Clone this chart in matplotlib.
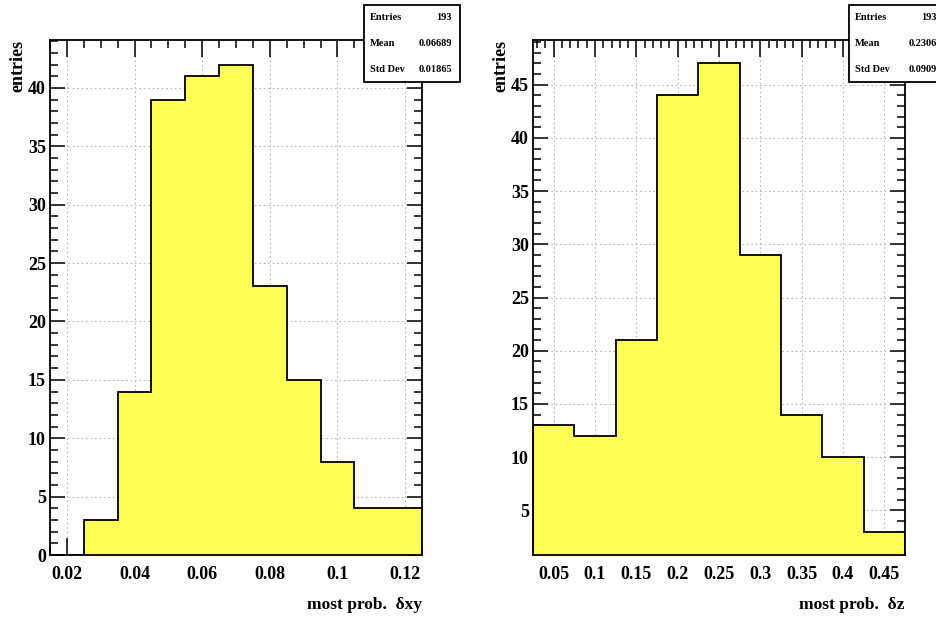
import numpy as np
import matplotlib
matplotlib.use("Agg")
from matplotlib import pyplot as plt
from matplotlib.patches import Rectangle
from matplotlib.ticker import MultipleLocator

plt.rcParams['font.family'] = ['Liberation Serif', 'DejaVu Serif']
plt.rcParams['font.weight'] = 'bold'

# Histogram contents
xy_edges = np.linspace(0.015, 0.125, 12)
xy_counts = [0, 3, 14, 39, 41, 42, 23, 15, 8, 4, 4]
z_edges = np.linspace(0.025, 0.475, 10)
z_counts = [13, 12, 21, 44, 47, 29, 14, 10, 3]

xy_stats = [('Entries', '193'), ('Mean', '0.06689'), ('Std Dev', '0.01865')]
z_stats = [('Entries', '193'), ('Mean', '0.2306'), ('Std Dev', '0.0909')]

W, H = 937, 619
fig = plt.figure(figsize=(W / 100, H / 100), dpi=100)

fill = '#ffff55'


def panel(left, edges, counts, ylim, xmaj, xmin, xlabel, stats, boxx):
    ax = fig.add_axes([left / W, 64 / H, 372 / W, 515 / H])
    ax.grid(True, color='#b8b8b8', linestyle=(0, (1.5, 2.5)), linewidth=0.8)
    ax.set_axisbelow(True)
    ax.stairs(counts, edges, fill=True, color=fill, zorder=2)
    ax.stairs(counts, edges, baseline=ylim[0], color='black', linewidth=1.3, zorder=3)
    ax.set_xlim(edges[0], edges[-1])
    ax.set_ylim(*ylim)
    ax.xaxis.set_major_locator(MultipleLocator(xmaj))
    ax.xaxis.set_minor_locator(MultipleLocator(xmin))
    ax.yaxis.set_major_locator(MultipleLocator(5))
    ax.yaxis.set_minor_locator(MultipleLocator(1))
    ax.tick_params(which='both', direction='in', top=True, right=True, width=1.1)
    ax.tick_params(which='major', length=12, labelsize=13, pad=8)
    ax.tick_params(which='minor', length=6)
    ax.tick_params(axis='y', which='major', length=11, pad=3)
    ax.xaxis.set_major_formatter(plt.FuncFormatter(lambda v, p: ('%g' % round(v, 4))))
    for s in ax.spines.values():
        s.set_linewidth(1.3)
        s.set_zorder(4)
    # axis titles
    fig.text((left + 372) / W, 1 - 605 / H, xlabel, ha='right', va='center', fontsize=12.5)
    fig.text((left - 32) / W, 1 - 40 / H, 'entries', rotation=90, ha='center', va='top', fontsize=13)
    # stats box
    bw, bh = 96, 77
    fig.patches.append(Rectangle((boxx / W, 1 - 82 / H), bw / W, bh / H, transform=fig.transFigure,
                                 facecolor='white', edgecolor='black', linewidth=1.3, zorder=5))
    for i, (k, v) in enumerate(stats):
        yy = 1 - (17 + 26.5 * i) / H
        fig.text((boxx + 6) / W, yy, k, ha='left', va='center', fontsize=7.5, zorder=6)
        fig.text((boxx + bw - 8) / W, yy, v, ha='right', va='center', fontsize=7.5, zorder=6)
    return ax


panel(50, xy_edges, xy_counts, (0, 44.1), 0.02, 0.005, 'most prob.  δxy', xy_stats, 364)
panel(533, z_edges, z_counts, (0.8, 49.2), 0.05, 0.01, 'most prob.  δz', z_stats, 849)

fig.savefig('out.png', dpi=100)
